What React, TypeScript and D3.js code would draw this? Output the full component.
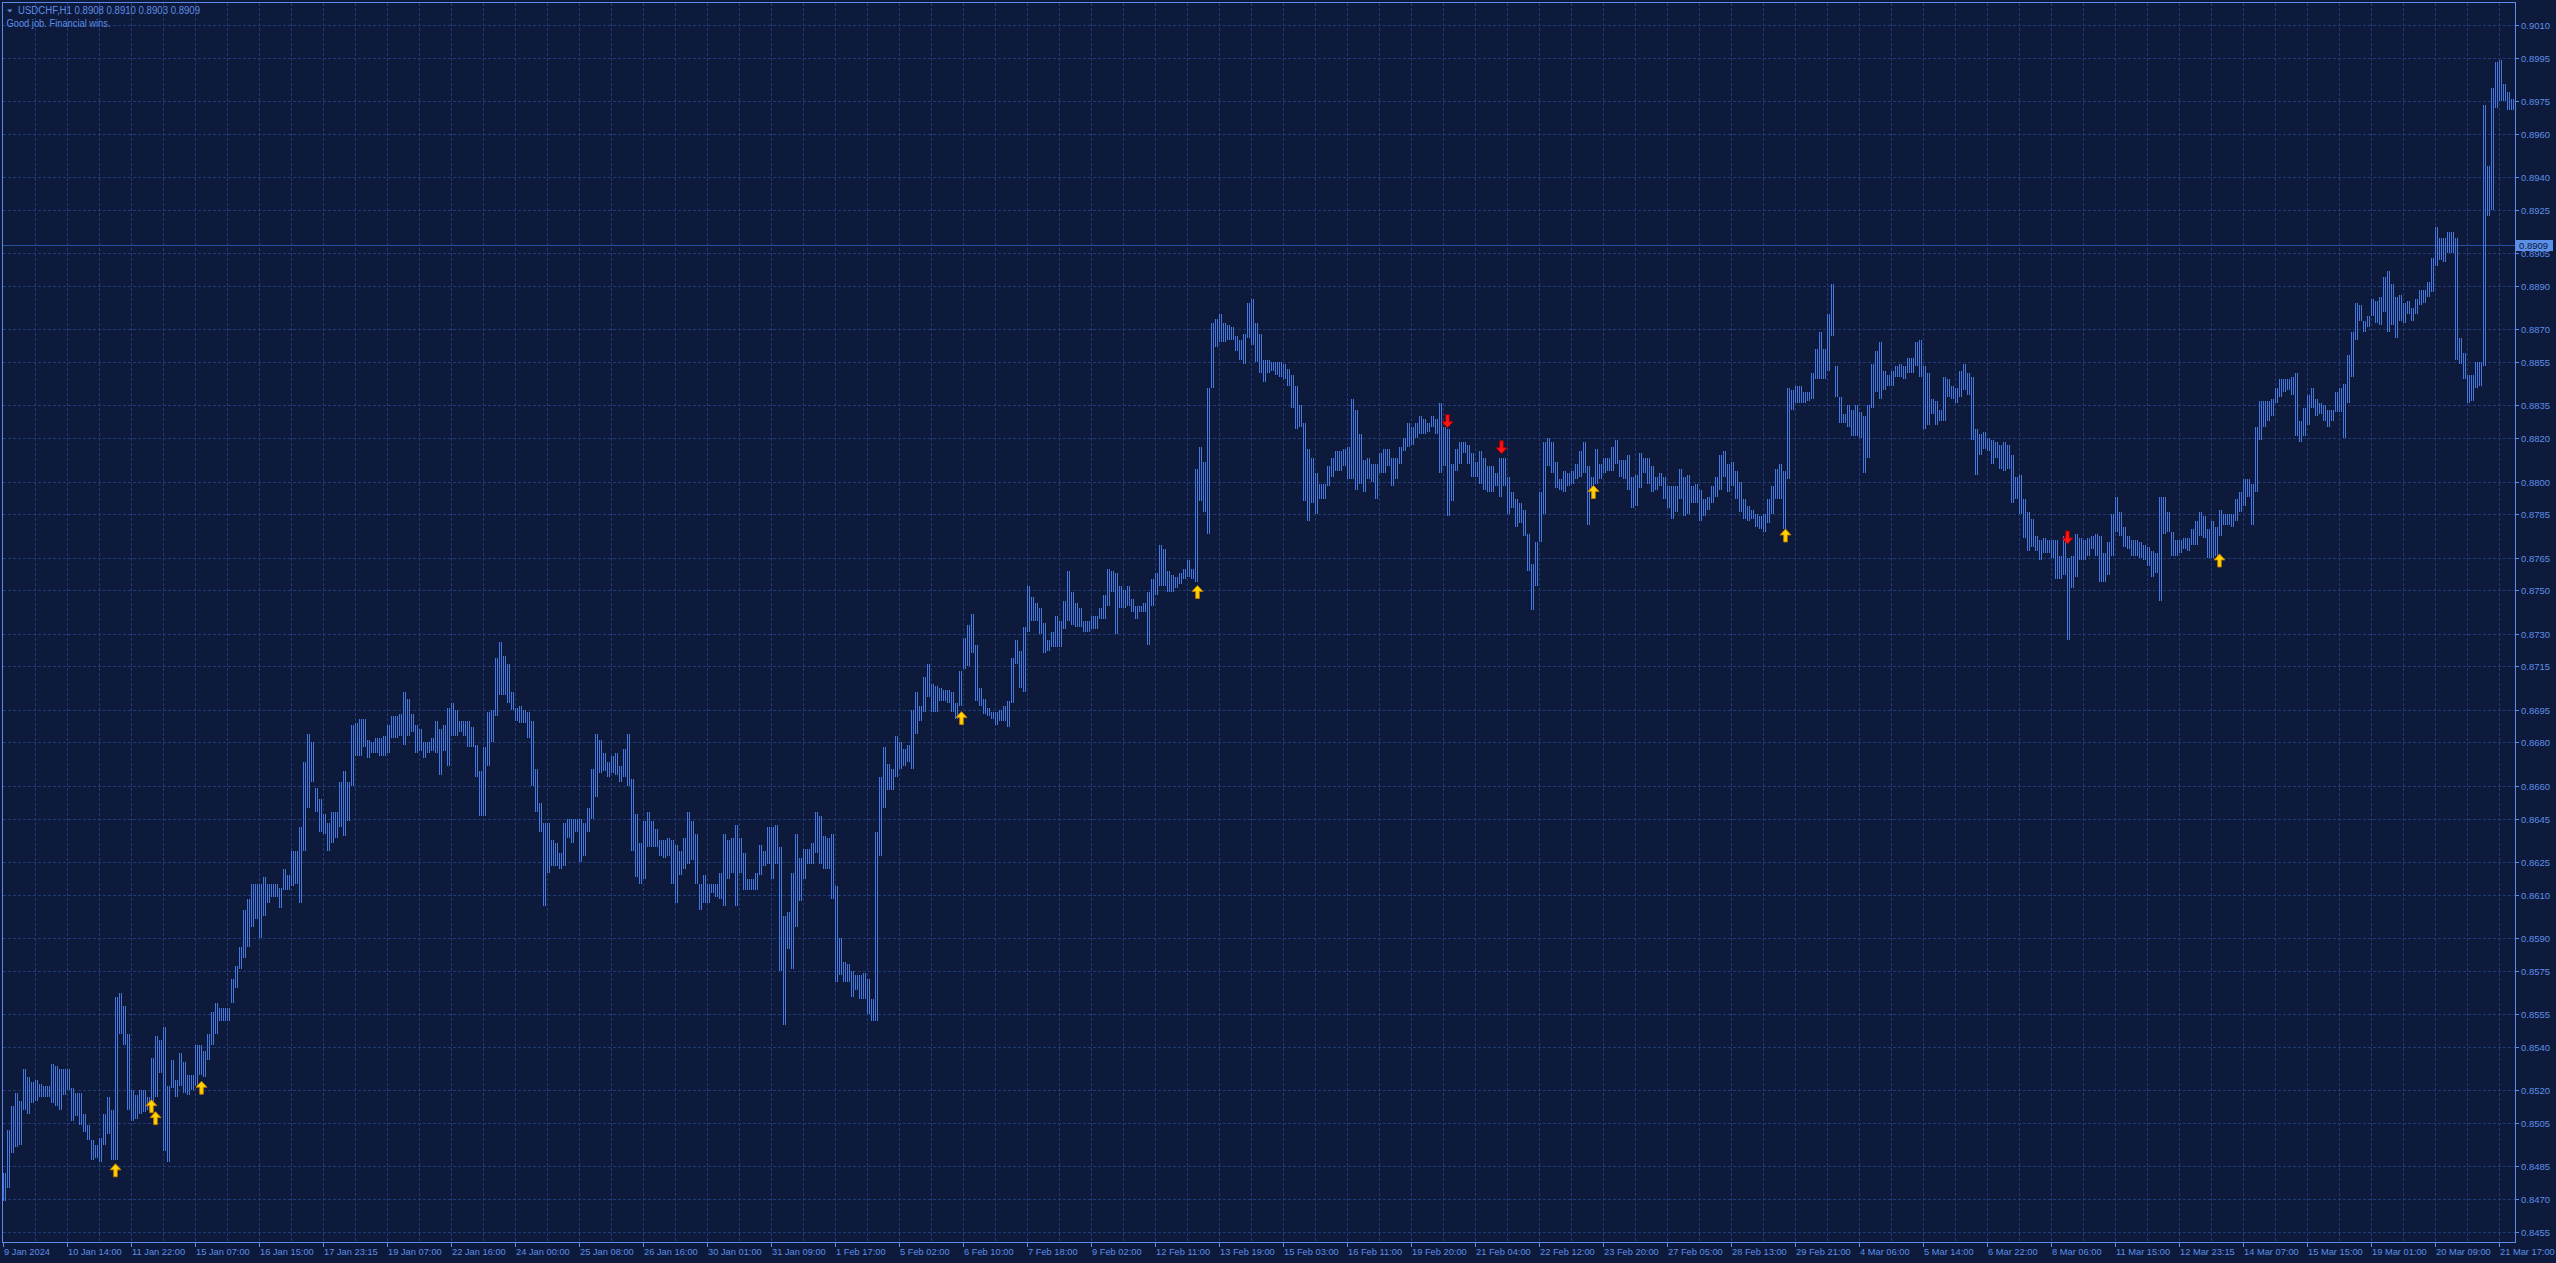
import React, { useEffect } from 'react';
import * as d3 from 'd3';

// ---------- data ----------
// USDCHF H1. Each entry = high / low (pips, price x 10000) of a 2-hour block (2 consecutive H1 bars).
const rangeHigh = [
  8482, 8502, 8513, 8519, 8515, 8530, 8526, 8524, 8525, 8523,
  8522, 8522, 8532, 8531, 8530, 8530, 8530, 8521, 8519, 8519,
  8509, 8504, 8497, 8495, 8498, 8509, 8517, 8511, 8563, 8565,
  8559, 8546, 8520, 8518, 8520, 8520, 8517, 8535, 8545, 8543,
  8549, 8522, 8534, 8525, 8537, 8533, 8527, 8527, 8541, 8541,
  8538, 8546, 8556, 8560, 8558, 8558, 8558, 8571, 8577, 8586,
  8603, 8608, 8615, 8615, 8615, 8618, 8615, 8615, 8615, 8613,
  8622, 8619, 8630, 8630, 8641, 8671, 8684, 8680, 8659, 8654,
  8647, 8643, 8648, 8648, 8662, 8667, 8662, 8688, 8689, 8691,
  8691, 8681, 8680, 8682, 8682, 8683, 8688, 8692, 8692, 8693,
  8703, 8700, 8693, 8688, 8686, 8680, 8680, 8682, 8690, 8686,
  8688, 8696, 8698, 8695, 8690, 8690, 8690, 8687, 8679, 8667,
  8678, 8694, 8695, 8719, 8726, 8720, 8716, 8703, 8696, 8697,
  8695, 8694, 8690, 8668, 8652, 8643, 8643, 8635, 8634, 8629,
  8643, 8645, 8645, 8645, 8645, 8643, 8650, 8668, 8684, 8681,
  8675, 8671, 8674, 8675, 8669, 8677, 8684, 8663, 8647, 8634,
  8644, 8648, 8644, 8640, 8635, 8635, 8636, 8635, 8633, 8630,
  8636, 8648, 8644, 8638, 8615, 8619, 8615, 8615, 8615, 8620,
  8638, 8635, 8636, 8642, 8636, 8629, 8617, 8617, 8620, 8633,
  8630, 8641, 8641, 8642, 8632, 8600, 8602, 8620, 8638, 8627,
  8631, 8631, 8634, 8648, 8646, 8637, 8636, 8638, 8614, 8590,
  8579, 8578, 8575, 8573, 8573, 8574, 8571, 8562, 8639, 8664,
  8678, 8670, 8668, 8683, 8680, 8677, 8679, 8695, 8703, 8697,
  8710, 8716, 8707, 8706, 8705, 8704, 8704, 8703, 8698, 8713,
  8728, 8734, 8739, 8725, 8705, 8700, 8696, 8694, 8694, 8695,
  8697, 8699, 8719, 8727, 8722, 8733, 8752, 8747, 8744, 8742,
  8735, 8727, 8731, 8738, 8736, 8745, 8759, 8749, 8744, 8742,
  8736, 8736, 8738, 8738, 8742, 8748, 8760, 8759, 8758, 8752,
  8750, 8752, 8746, 8743, 8743, 8744, 8749, 8755, 8758, 8771,
  8769, 8759, 8757, 8756, 8758, 8760, 8764, 8760, 8806, 8816,
  8809, 8843, 8873, 8875, 8877, 8873, 8872, 8871, 8867, 8865,
  8868, 8882, 8884, 8873, 8868, 8856, 8856, 8855, 8855, 8855,
  8854, 8852, 8849, 8844, 8835, 8827, 8815, 8811, 8804, 8799,
  8799, 8807, 8811, 8814, 8814, 8815, 8816, 8838, 8833, 8822,
  8810, 8811, 8808, 8808, 8813, 8815, 8815, 8811, 8811, 8816,
  8820, 8827, 8825, 8827, 8830, 8829, 8827, 8830, 8829, 8836,
  8825, 8824, 8808, 8815, 8818, 8818, 8817, 8813, 8809, 8814,
  8811, 8807, 8807, 8804, 8811, 8811, 8802, 8795, 8792, 8790,
  8787, 8776, 8762, 8772, 8795, 8818, 8820, 8818, 8809, 8801,
  8805, 8804, 8805, 8808, 8814, 8818, 8807, 8802, 8815, 8808,
  8811, 8811, 8816, 8819, 8810, 8810, 8812, 8802, 8803, 8813,
  8811, 8811, 8807, 8802, 8804, 8802, 8798, 8798, 8798, 8806,
  8802, 8803, 8798, 8799, 8796, 8792, 8793, 8798, 8802, 8812,
  8814, 8808, 8809, 8805, 8800, 8792, 8789, 8787, 8785, 8784,
  8785, 8792, 8798, 8806, 8808, 8805, 8843, 8842, 8844, 8844,
  8841, 8841, 8850, 8861, 8869, 8861, 8877, 8891, 8853, 8839,
  8831, 8835, 8833, 8835, 8832, 8830, 8835, 8854, 8860, 8864,
  8851, 8849, 8851, 8853, 8854, 8853, 8857, 8857, 8864, 8865,
  8853, 8850, 8838, 8837, 8833, 8848, 8847, 8844, 8843, 8851,
  8854, 8850, 8848, 8824, 8822, 8823, 8820, 8819, 8818, 8817,
  8818, 8817, 8812, 8802, 8803, 8792, 8786, 8783, 8775, 8773,
  8774, 8773, 8773, 8773, 8766, 8775, 8765, 8766, 8776, 8774,
  8773, 8774, 8775, 8776, 8775, 8767, 8772, 8785, 8793, 8786,
  8779, 8775, 8773, 8773, 8772, 8771, 8770, 8768, 8767, 8793,
  8793, 8786, 8777, 8773, 8773, 8774, 8774, 8778, 8782, 8786,
  8784, 8778, 8782, 8779, 8787, 8785, 8785, 8785, 8792, 8795,
  8801, 8801, 8799, 8825, 8837, 8837, 8837, 8838, 8843, 8847,
  8847, 8847, 8848, 8850, 8828, 8834, 8840, 8843, 8838, 8836,
  8835, 8833, 8833, 8841, 8843, 8845, 8858, 8869, 8882, 8881,
  8874, 8876, 8884, 8883, 8885, 8894, 8897, 8891, 8885, 8886,
  8882, 8883, 8880, 8884, 8888, 8888, 8892, 8903, 8917, 8912,
  8912, 8915, 8915, 8912, 8866, 8859, 8849, 8849, 8855, 8855,
  8973, 8945, 8981, 8993, 8994, 8983, 8979, 8976,
];
const rangeLow = [
  8469, 8475, 8491, 8494, 8495, 8511, 8509, 8514, 8515, 8517,
  8517, 8517, 8514, 8513, 8511, 8518, 8520, 8506, 8508, 8504,
  8501, 8497, 8488, 8489, 8487, 8495, 8500, 8488, 8488, 8546,
  8541, 8511, 8506, 8507, 8509, 8510, 8511, 8515, 8517, 8528,
  8492, 8487, 8521, 8517, 8522, 8519, 8518, 8520, 8522, 8527,
  8526, 8534, 8541, 8546, 8552, 8552, 8552, 8560, 8567, 8576,
  8581, 8586, 8595, 8599, 8590, 8600, 8606, 8609, 8609, 8604,
  8612, 8612, 8614, 8615, 8606, 8630, 8650, 8662, 8648, 8639,
  8638, 8630, 8634, 8636, 8641, 8637, 8644, 8660, 8674, 8674,
  8678, 8673, 8675, 8675, 8674, 8674, 8675, 8682, 8682, 8683,
  8679, 8683, 8685, 8675, 8676, 8673, 8675, 8676, 8675, 8665,
  8676, 8669, 8683, 8683, 8685, 8683, 8678, 8678, 8664, 8646,
  8646, 8669, 8680, 8692, 8702, 8702, 8698, 8695, 8690, 8689,
  8689, 8682, 8660, 8648, 8639, 8605, 8620, 8623, 8623, 8622,
  8623, 8636, 8634, 8639, 8625, 8628, 8639, 8645, 8655, 8666,
  8667, 8664, 8666, 8665, 8662, 8664, 8660, 8630, 8618, 8615,
  8617, 8632, 8632, 8632, 8628, 8627, 8628, 8615, 8606, 8619,
  8622, 8624, 8626, 8615, 8603, 8606, 8606, 8611, 8609, 8608,
  8605, 8617, 8620, 8605, 8620, 8612, 8612, 8612, 8612, 8619,
  8623, 8624, 8617, 8624, 8575, 8550, 8585, 8576, 8595, 8607,
  8617, 8624, 8624, 8629, 8624, 8622, 8622, 8608, 8570, 8573,
  8570, 8570, 8563, 8566, 8562, 8562, 8555, 8552, 8552, 8628,
  8650, 8658, 8658, 8664, 8668, 8669, 8671, 8668, 8684, 8690,
  8694, 8701, 8694, 8694, 8699, 8699, 8698, 8694, 8691, 8697,
  8714, 8715, 8721, 8699, 8697, 8693, 8692, 8691, 8688, 8690,
  8690, 8687, 8698, 8716, 8705, 8703, 8731, 8736, 8736, 8730,
  8721, 8722, 8724, 8724, 8724, 8732, 8736, 8734, 8733, 8733,
  8731, 8731, 8732, 8732, 8737, 8737, 8743, 8749, 8730, 8742,
  8742, 8743, 8740, 8737, 8740, 8740, 8725, 8743, 8748, 8752,
  8752, 8749, 8749, 8751, 8753, 8755, 8756, 8755, 8754, 8791,
  8786, 8776, 8843, 8862, 8864, 8864, 8865, 8865, 8860, 8856,
  8854, 8866, 8863, 8855, 8850, 8846, 8850, 8851, 8849, 8848,
  8847, 8844, 8834, 8824, 8825, 8791, 8782, 8790, 8785, 8792,
  8792, 8798, 8802, 8805, 8805, 8807, 8801, 8801, 8796, 8799,
  8795, 8801, 8800, 8792, 8804, 8804, 8807, 8798, 8801, 8808,
  8814, 8816, 8817, 8820, 8822, 8822, 8823, 8825, 8822, 8804,
  8807, 8784, 8791, 8805, 8808, 8813, 8808, 8802, 8802, 8799,
  8796, 8795, 8795, 8798, 8793, 8798, 8785, 8788, 8779, 8781,
  8775, 8759, 8741, 8752, 8772, 8785, 8807, 8804, 8797, 8796,
  8795, 8798, 8799, 8801, 8802, 8804, 8780, 8792, 8799, 8801,
  8804, 8805, 8805, 8808, 8802, 8801, 8796, 8788, 8789, 8797,
  8804, 8799, 8795, 8796, 8798, 8792, 8788, 8783, 8786, 8792,
  8784, 8785, 8790, 8790, 8782, 8784, 8787, 8790, 8793, 8796,
  8802, 8795, 8798, 8792, 8786, 8783, 8782, 8783, 8779, 8778,
  8777, 8781, 8785, 8792, 8792, 8778, 8801, 8833, 8836, 8836,
  8836, 8837, 8838, 8847, 8847, 8847, 8851, 8867, 8839, 8827,
  8827, 8825, 8821, 8821, 8820, 8804, 8811, 8834, 8841, 8838,
  8842, 8844, 8844, 8848, 8848, 8847, 8850, 8850, 8853, 8848,
  8824, 8826, 8831, 8826, 8828, 8828, 8839, 8838, 8836, 8839,
  8842, 8840, 8819, 8803, 8812, 8815, 8814, 8808, 8811, 8806,
  8805, 8806, 8790, 8792, 8785, 8774, 8768, 8770, 8768, 8764,
  8767, 8767, 8765, 8755, 8755, 8757, 8727, 8751, 8756, 8764,
  8764, 8766, 8769, 8766, 8754, 8754, 8757, 8766, 8777, 8775,
  8770, 8769, 8766, 8766, 8765, 8764, 8761, 8756, 8758, 8745,
  8776, 8777, 8766, 8766, 8767, 8769, 8768, 8771, 8771, 8775,
  8774, 8765, 8765, 8766, 8775, 8780, 8780, 8779, 8782, 8786,
  8789, 8793, 8780, 8795, 8819, 8825, 8828, 8830, 8836, 8839,
  8841, 8842, 8840, 8821, 8818, 8821, 8826, 8834, 8830, 8831,
  8828, 8825, 8828, 8832, 8832, 8820, 8836, 8848, 8865, 8874,
  8869, 8871, 8876, 8873, 8872, 8878, 8869, 8872, 8866, 8874,
  8873, 8877, 8874, 8877, 8881, 8882, 8885, 8887, 8899, 8902,
  8901, 8905, 8905, 8856, 8854, 8847, 8836, 8837, 8843, 8844,
  8853, 8922, 8925, 8972, 8975, 8975, 8971, 8971,
];
const BARS_PER_BLOCK = 2;

// time-axis labels, one every 32 bars starting at bar 0
const xLabels = [
  '9 Jan 2024', '10 Jan 14:00', '11 Jan 22:00', '15 Jan 07:00', '16 Jan 15:00', '17 Jan 23:15',
  '19 Jan 07:00', '22 Jan 16:00', '24 Jan 00:00', '25 Jan 08:00', '26 Jan 16:00', '30 Jan 01:00',
  '31 Jan 09:00', '1 Feb 17:00', '5 Feb 02:00', '6 Feb 10:00', '7 Feb 18:00', '9 Feb 02:00',
  '12 Feb 11:00', '13 Feb 19:00', '15 Feb 03:00', '16 Feb 11:00', '19 Feb 20:00', '21 Feb 04:00',
  '22 Feb 12:00', '23 Feb 20:00', '27 Feb 05:00', '28 Feb 13:00', '29 Feb 21:00', '4 Mar 06:00',
  '5 Mar 14:00', '6 Mar 22:00', '8 Mar 06:00', '11 Mar 15:00', '12 Mar 23:15', '14 Mar 07:00',
  '15 Mar 15:00', '19 Mar 01:00', '20 Mar 09:00', '21 Mar 17:00',
];
const BARS_PER_LABEL = 32;
const BARS_PER_GRID = 16;

const yTicks = [
  0.9010, 0.8995, 0.8975, 0.8960, 0.8940, 0.8925, 0.8905, 0.8890, 0.8870, 0.8855, 0.8835,
  0.8820, 0.8800, 0.8785, 0.8765, 0.8750, 0.8730, 0.8715, 0.8695, 0.8680, 0.8660, 0.8645,
  0.8625, 0.8610, 0.8590, 0.8575, 0.8555, 0.8540, 0.8520, 0.8505, 0.8485, 0.8470, 0.8455,
];

// signal arrows: bar index and price of the arrow centre
const upArrowBars = [56, 74, 76, 99, 479, 597, 795, 891, 1108];
const upArrowPrices = [0.8483, 0.85125, 0.8507, 0.8521, 0.8691, 0.8749, 0.8795, 0.8775, 0.87635];
const downArrowBars = [722, 749, 1032];
const downArrowPrices = [0.8828, 0.8816, 0.87745];

const symbolLine = 'USDCHF,H1  0.8908 0.8910 0.8903 0.8909';
const commentLine = 'Good job. Financial wins.';
const lastPrice = 0.8909;

// ---------- styles ----------
const W = 2556;
const H = 1263;
const BG = '#0e1a3b';
const GRID = '#1f3b78';
const BAR = '#4677de';
const FRAME = '#5b8be6';
const TEXT = '#5d8fe8';
const FONT = "'Liberation Sans', Arial, sans-serif";

export default function App() {
  useEffect(() => {
    document.body.style.margin = '0';
    document.body.style.background = BG;
  }, []);

  const totalBars = rangeHigh.length * BARS_PER_BLOCK;
  const left = 3.5;
  const plotRight = 2515.5;
  const plotTop = 2.5;
  const plotBottom = 1242.5;

  const x = d3.scaleLinear().domain([0, totalBars - 1]).range([left, left + 2 * (totalBars - 1)]);
  const y = d3.scaleLinear().domain([0.8455, 0.9010]).range([1231.7, 25]);
  const yPx = (p: number) => Math.round(y(p)) + 0.5;

  // bars
  let barPath = '';
  rangeHigh.forEach((hi, b) => {
    const lo = rangeLow[b];
    const y1 = Math.round(y(hi / 10000));
    let y2 = Math.round(y(lo / 10000));
    if (y2 - y1 < 2) y2 = y1 + 2;
    for (let j = 0; j < BARS_PER_BLOCK; j++) {
      const xi = x(b * BARS_PER_BLOCK + j);
      barPath += `M${xi},${y1}V${y2}`;
    }
  });

  const gridXs: number[] = [];
  for (let i = BARS_PER_GRID; i < totalBars; i += BARS_PER_GRID) gridXs.push(x(i));

  const upArrow = (cx: number, cy: number) =>
    `M${cx},${cy - 7} L${cx + 5.5},${cy - 1} L${cx + 1.8},${cy - 1} L${cx + 1.8},${cy + 6} L${cx - 1.8},${cy + 6} L${cx - 1.8},${cy - 1} L${cx - 5.5},${cy - 1} Z`;
  const downArrow = (cx: number, cy: number) =>
    `M${cx},${cy + 7} L${cx + 5.5},${cy + 1} L${cx + 1.8},${cy + 1} L${cx + 1.8},${cy - 6} L${cx - 1.8},${cy - 6} L${cx - 1.8},${cy + 1} L${cx - 5.5},${cy + 1} Z`;

  const lastY = yPx(lastPrice);

  return (
    <svg
      width={W}
      height={H}
      style={{ position: 'fixed', left: 0, top: 0, display: 'block', background: BG }}
      fontFamily={FONT}
    >
      <rect x={0} y={0} width={W} height={H} fill={BG} />

      {/* grid */}
      <g stroke={GRID} strokeWidth={1} strokeDasharray="3,2" shapeRendering="crispEdges">
        {gridXs.map((gx, i) => (
          <line key={'gx' + i} x1={gx} x2={gx} y1={plotTop} y2={plotBottom} />
        ))}
        {yTicks.map((t, i) => (
          <line key={'gy' + i} x1={2.5} x2={plotRight} y1={yPx(t)} y2={yPx(t)} />
        ))}
      </g>

      {/* last price line */}
      <line x1={2.5} x2={plotRight} y1={lastY} y2={lastY} stroke="#2b4f9e" strokeWidth={1} shapeRendering="crispEdges" />

      {/* bars */}
      <path d={barPath} stroke={BAR} strokeWidth={1} fill="none" shapeRendering="crispEdges" />

      {/* arrows */}
      {upArrowBars.map((b, i) => (
        <path key={'ua' + i} d={upArrow(x(b), y(upArrowPrices[i]))} fill="#ffd400" stroke="#c77a00" strokeWidth={0.9} />
      ))}
      {downArrowBars.map((b, i) => (
        <path key={'da' + i} d={downArrow(x(b), y(downArrowPrices[i]))} fill="#ff1414" stroke="#a80000" strokeWidth={0.9} />
      ))}

      {/* frame */}
      <rect x={2.5} y={plotTop} width={plotRight - 2.5} height={plotBottom - plotTop} fill="none" stroke={FRAME} strokeWidth={1} shapeRendering="crispEdges" />

      {/* y axis */}
      <g fill={TEXT} fontSize={9.5}>
        {yTicks.map((t, i) => (
          <g key={'yt' + i}>
            <line x1={plotRight} x2={plotRight + 3} y1={yPx(t)} y2={yPx(t)} stroke={FRAME} shapeRendering="crispEdges" />
            <text x={2521} y={yPx(t)} dominantBaseline="central">{t.toFixed(4)}</text>
          </g>
        ))}
      </g>

      {/* last price tag */}
      <rect x={2516} y={lastY - 5.5} width={37} height={11} fill="#5b8fe8" />
      <text x={2519} y={lastY} dominantBaseline="central" fontSize={9.5} fill="#0e1a3b">{lastPrice.toFixed(4)}</text>

      {/* x axis */}
      <g fill={TEXT} fontSize={9.3}>
        {xLabels.map((lab, i) => {
          const lx = x(i * BARS_PER_LABEL);
          return (
            <g key={'xl' + i}>
              <line x1={lx} x2={lx} y1={plotBottom} y2={plotBottom + 4} stroke={FRAME} shapeRendering="crispEdges" />
              <text x={lx + 0.5} y={1255}>{lab}</text>
            </g>
          );
        })}
      </g>

      {/* header */}
      <path d="M7,9.5 L12.5,9.5 L9.75,12.5 Z" fill={TEXT} />
      <text x={18} y={14} fontSize={10} fill={TEXT} textLength={182} lengthAdjust="spacingAndGlyphs">{symbolLine}</text>
      <text x={6.5} y={27} fontSize={10} fill={TEXT} textLength={104} lengthAdjust="spacingAndGlyphs">{commentLine}</text>
    </svg>
  );
}
